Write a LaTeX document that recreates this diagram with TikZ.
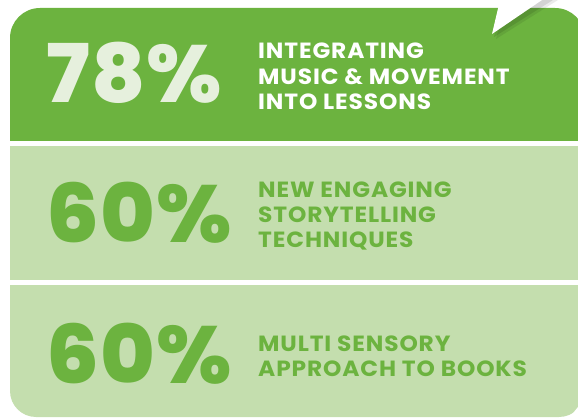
\documentclass[tikz,border=0pt]{standalone}
\usepackage{fontspec}
\setmainfont{Poppins}
\newfontfamily\bignum{Poppins ExtraBold}[LetterSpace=1.5,FakeStretch=1.03]
\usetikzlibrary{positioning}
\definecolor{leaf}{RGB}{108,179,63}
\definecolor{pale}{RGB}{196,222,174}
\definecolor{mist}{RGB}{230,240,221}
\tikzset{
  pct/.style={anchor=base west,inner sep=0pt,font=\bignum\fontsize{81}{81}\selectfont},
  caption/.style={anchor=base west,inner sep=0pt,font=\bfseries\fontsize{22}{22}\selectfont\addfontfeature{LetterSpace=4,FakeStretch=1.06}}
}
\begin{document}
\begin{tikzpicture}[x=1pt,y=-1pt]
\useasboundingbox (0,0) rectangle (578,419);
\begin{scope}
\clip (0,0) rectangle (578,141);
\fill[leaf,rounded corners=30pt] (10,8) rectangle (585,200);
\end{scope}
\fill[pale] (10,146) rectangle (578,280);
\begin{scope}
\clip (0,286) rectangle (578,419);
\fill[pale,rounded corners=26pt] (10,240) rectangle (585,417);
\fill[white] (578,407) -- (569,418) -- (578,419) -- cycle;
\end{scope}
\fill[black,opacity=.10] (503,0) -- (494,37) -- (553,0) -- cycle;
\fill[black,opacity=.08] (506,0) -- (496,39) -- (558,0) -- cycle;
\fill[white] (500,0) -- (492,34) -- (542,0) -- cycle;
\node[pct,text=mist] (p1) at (46,103) {78\%};
\node[caption,text=white] (c1a) at (258,59) {INTEGRATING};
\node[caption,text=white] (c1b) at (258,85) {MUSIC \& MOVEMENT};
\node[caption,text=white] (c1c) at (258,110) {INTO LESSONS};
\node[pct,text=leaf] (p2) at (46,243) {60\%};
\node[caption,text=leaf] (c2a) at (258,198) {NEW ENGAGING};
\node[caption,text=leaf] (c2b) at (258,223) {STORYTELLING};
\node[caption,text=leaf] (c2c) at (258,248) {TECHNIQUES};
\node[pct,text=leaf] (p3) at (46,383) {60\%};
\node[caption,text=leaf] (c3a) at (258,352) {MULTI SENSORY};
\node[caption,text=leaf] (c3b) at (258,376) {APPROACH TO BOOKS};
\end{tikzpicture}
\end{document}
